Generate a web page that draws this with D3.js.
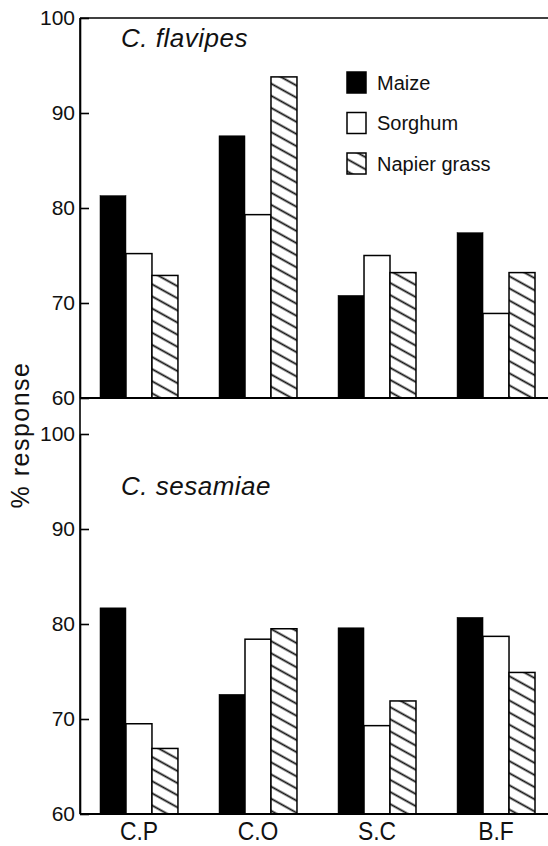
<!DOCTYPE html>
<html><head><meta charset="utf-8">
<script src="https://cdn.jsdelivr.net/npm/d3@7"></script>
<style>body{margin:0;background:#fff}svg{display:block}text{font-family:"Liberation Sans",Arial,sans-serif;fill:#111}</style>
</head><body>
<script>
const categories = ["C.P","C.O","S.C","B.F"];
const series = ["Maize","Sorghum","Napier grass"];
const flavipesMaize   = [81.3, 87.6, 70.8, 77.4];
const flavipesSorghum = [75.2, 79.3, 75.0, 68.9];
const flavipesNapier  = [72.9, 93.8, 73.2, 73.2];
const sesamiaeMaize   = [81.7, 72.6, 79.6, 80.7];
const sesamiaeSorghum = [69.5, 78.4, 69.3, 78.7];
const sesamiaeNapier  = [66.9, 79.5, 71.9, 74.9];
const yTicks = [60,70,80,90,100];
const panelTitles = ["C. flavipes","C. sesamiae"];
const yLabel = "% response";

const W=548,H=846;
const svg=d3.select("body").append("svg").attr("width",W).attr("height",H);
const defs=svg.append("defs");
const pat=defs.append("pattern").attr("id","hatch").attr("patternUnits","userSpaceOnUse")
  .attr("width",10).attr("height",10.6).attr("patternTransform","rotate(29)");
pat.append("rect").attr("width",10).attr("height",10.6).attr("fill","#fff");
pat.append("line").attr("x1",0).attr("x2",10).attr("y1",5.3).attr("y2",5.3).attr("stroke","#111").attr("stroke-width",1.8);

const axisX=80, rightX=548;
const x=d3.scaleBand().domain(categories).range([80,555]).paddingInner(0.345).paddingOuter(0.168);
const xs=d3.scaleBand().domain(series).range([0,x.bandwidth()]);
const fills=["#000","#fff","url(#hatch)"];

const panels=[
  {title:panelTitles[0], data:[flavipesMaize,flavipesSorghum,flavipesNapier], y:d3.scaleLinear().domain([60,100]).range([398,18]), top:true, titleY:47},
  {title:panelTitles[1], data:[sesamiaeMaize,sesamiaeSorghum,sesamiaeNapier], y:d3.scaleLinear().domain([60,100]).range([814,434]), top:false, titleY:495}
];

panels.forEach(p=>{
  const g=svg.append("g");
  series.forEach((s,si)=>{
    g.selectAll(null).data(categories).enter().append("rect")
      .attr("x",c=>x(c)+xs(s)).attr("width",xs.bandwidth())
      .attr("y",(c,i)=>p.y(p.data[si][i])).attr("height",(c,i)=>p.y(60)-p.y(p.data[si][i]))
      .attr("fill",fills[si]).attr("stroke","#000").attr("stroke-width",si===0?0.5:1.5);
  });
  g.append("line").attr("x1",axisX).attr("x2",rightX).attr("y1",p.y(60)).attr("y2",p.y(60)).attr("stroke","#000").attr("stroke-width",2);
  if(p.top) g.append("line").attr("x1",axisX).attr("x2",rightX).attr("y1",p.y(100)).attr("y2",p.y(100)).attr("stroke","#000").attr("stroke-width",1.6);
  const ax=g.append("g").attr("transform",`translate(${axisX},0)`)
    .call(d3.axisLeft(p.y).tickValues(yTicks).tickSizeInner(-9).tickSizeOuter(0).tickPadding(5));
  ax.select(".domain").attr("stroke","#000").attr("stroke-width",1.6);
  ax.selectAll(".tick line").attr("stroke","#000").attr("stroke-width",1.6);
  ax.selectAll(".tick text").attr("font-size",21).attr("font-family","Liberation Sans, Arial, sans-serif").attr("fill","#111");
  g.append("text").attr("x",121).attr("y",p.titleY).attr("font-size",26).attr("letter-spacing",0.5).attr("font-style","italic").text(p.title);
});

svg.append("line").attr("x1",axisX).attr("x2",axisX).attr("y1",18).attr("y2",814).attr("stroke","#000").attr("stroke-width",1.6);

// x labels
svg.selectAll(null).data(categories).enter().append("text")
  .attr("transform",c=>`translate(${x(c)+x.bandwidth()/2},840) scale(0.88,1)`).attr("text-anchor","middle")
  .attr("font-size",26).text(d=>d);

// y label
svg.append("text").attr("transform","translate(29,435) rotate(-90)").attr("text-anchor","middle")
  .attr("font-size",25).attr("letter-spacing",1.5).text(yLabel);

// legend
const lg=svg.append("g").attr("transform","translate(347,72)");
series.forEach((s,i)=>{
  const r=lg.append("g").attr("transform",`translate(0,${i*40.5})`);
  r.append("rect").attr("x",0).attr("y",0).attr("width",19).attr("height",21)
    .attr("fill",fills[i]).attr("stroke","#000").attr("stroke-width",1.5);
  r.append("text").attr("x",30).attr("y",17.5).attr("font-size",20).text(s);
});
</script>
</body></html>
